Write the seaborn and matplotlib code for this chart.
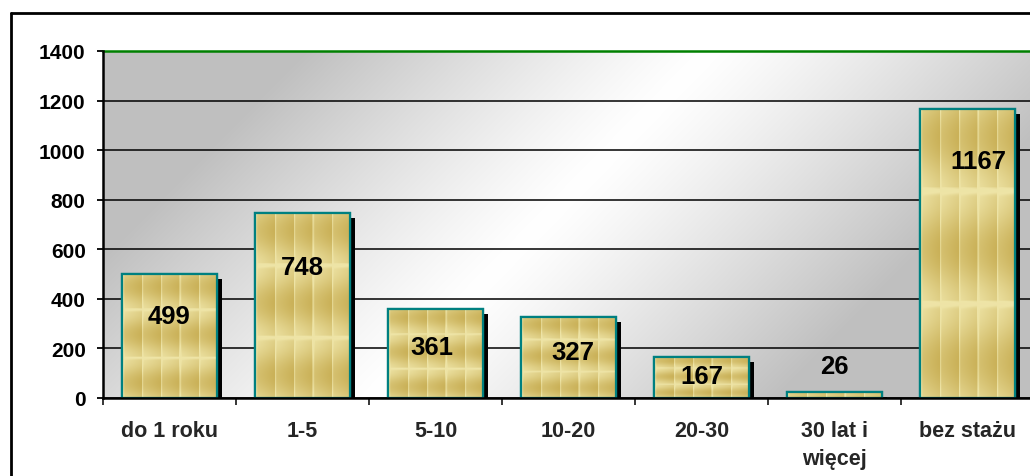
import numpy as np
import matplotlib
matplotlib.use("Agg")
import matplotlib.pyplot as plt
import matplotlib.patheffects as pe
from matplotlib.patches import Rectangle
from matplotlib.lines import Line2D
import seaborn as sns

sns.set_theme(style="white")
plt.rcParams['font.family'] = ['Liberation Sans', 'DejaVu Sans']
plt.rcParams['font.weight'] = 'bold'

# data
categories = ["do 1 roku", "1-5", "5-10", "10-20", "20-30", "30 lat i\nwięcej", "bez stażu"]
values = [499, 748, 361, 327, 167, 26, 1167]
yticks = [0, 200, 400, 600, 800, 1000, 1200, 1400]

# where the value labels sit (data units), as placed in the original
label_y = [331, 528, 206, 185, 89, 129, 956]
label_dx = [0, 0, -0.03, 0.03, 0, 0, 0.08]

W, H = 1030, 477
fig = plt.figure(figsize=(W / 100, H / 100), dpi=100)
fig.patch.set_facecolor("white")
# axes box in pixels: left 103, right 1034, top 52, bottom 399
ax = fig.add_axes([103 / W, 1 - 399 / H, 931 / W, 347 / H])
ax.set_facecolor("none")

# background: grey with a diagonal white band
ph, pw = 347, 931
py, px = np.mgrid[0:ph, 0:pw]
px = px + 103
py = py + 52
nx, ny = 347.0, 340.0
nrm = np.hypot(nx, ny)
d = ((px - 710) * nx + (py - 52) * ny) / nrm
shade = 1 - 0.25 * np.clip(np.abs(d) / 290, 0, 1) ** 1.2
bg = np.dstack([shade, shade, shade])
ax.imshow(bg, extent=(-0.5, 6.5, 0, 1400), origin="upper", aspect="auto",
          zorder=0, interpolation="bilinear")

# bars
sns.barplot(x=categories, y=values, ax=ax, color="#DCC672", width=0.72,
            edgecolor="#008080", linewidth=1.6, errorbar=None, zorder=2)

light = np.array([238, 228, 166]) / 255
dark = np.array([190, 160, 62]) / 255


def wood(h, w, ntile=2.56, phase=0.3, nstripes=5):
    # procedural stand-in for the Excel wood fill
    yy = np.linspace(0, 1, h)[:, None]
    xx = np.linspace(0, 1, w)[None, :]
    v = (yy * ntile + phase) % 1
    s = (xx * nstripes) % 1
    b = 0.62 + 0.22 * np.cos(2 * np.pi * (v - 0.05))
    st = 0.3 * np.exp(-((s - 0.05) / 0.045) ** 2) + 0.1 - 0.25 * s
    band = 0.35 * np.exp(-((v - 0.03) / 0.03) ** 2)
    t = np.clip(b + st + band, 0, 1)
    return dark + (light - dark) * t[..., None]


for p in ax.patches:
    p.set_path_effects([pe.SimplePatchShadow(offset=(3.6, -3.6), shadow_rgbFace="black", alpha=1),
                        pe.Normal()])
    x0, y0, bw, bh = p.get_x(), p.get_y(), p.get_width(), p.get_height()
    hpx = max(int(bh / 1400 * 347), 3)
    img = wood(hpx, 96)
    im = ax.imshow(img, extent=(x0, x0 + bw, y0, y0 + bh), origin="upper",
                   aspect="auto", zorder=2.2, interpolation="bilinear")
    im.set_clip_path(p)
    ax.add_patch(Rectangle((x0, y0), bw, bh, fill=False, edgecolor="#008080",
                           linewidth=1.6, zorder=2.4))

for i, v in enumerate(values):
    ax.text(i + label_dx[i], label_y[i], str(v), ha="center", va="center",
            fontsize=18.5, fontweight="bold", color="black", zorder=3)

ax.set_xlim(-0.5, 6.5)
ax.set_ylim(0, 1400)
ax.set_yticks(yticks)
ax.set_yticklabels([str(t) for t in yticks])
ax.yaxis.grid(True, color="black", linewidth=1.1, zorder=1)
ax.set_axisbelow(True)
ax.set_xlabel("")
ax.set_ylabel("")

ax.tick_params(axis="y", direction="out", length=4.5, width=1.3, pad=8,
               labelsize=15, colors="black", left=True)
ax.set_xticks(np.arange(len(categories)))
ax.set_xticklabels(categories, linespacing=1.45)
ax.tick_params(axis="x", which="major", length=0, pad=16, labelsize=15.5)
ax.set_xticks(np.arange(-0.5, 7, 1), minor=True)
ax.tick_params(axis="x", which="minor", direction="out", length=5, width=1.3,
               bottom=True)
for lab in ax.get_xticklabels() + ax.get_yticklabels():
    lab.set_fontweight("bold")

for side in ["left", "bottom"]:
    ax.spines[side].set_color("black")
    ax.spines[side].set_linewidth(1.8)
    ax.spines[side].set_zorder(4)
ax.spines["top"].set_color("#008000")
ax.spines["top"].set_linewidth(1.8)
ax.spines["right"].set_visible(False)

# outer chart frame (runs off the right and bottom edges)
fx = 10.5 / W
fy = 1 - 13.5 / H
fig.add_artist(Line2D([fx, fx], [-0.1, fy], transform=fig.transFigure, color="black", linewidth=2))
fig.add_artist(Line2D([fx, 1.1], [fy, fy], transform=fig.transFigure, color="black", linewidth=2))

fig.savefig("out.png", dpi=100)
